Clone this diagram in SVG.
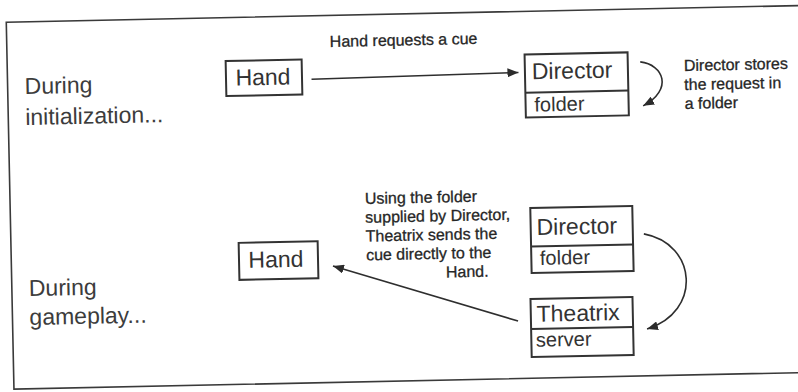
<svg xmlns="http://www.w3.org/2000/svg" width="798" height="392" viewBox="0 0 798 392">
  <defs>
    <marker id="head" markerUnits="userSpaceOnUse" markerWidth="12" markerHeight="9" refX="11" refY="4.5" orient="auto">
      <path d="M0,0 L11,4.5 L0,9 z" fill="#2b2b2b"/>
    </marker>
  </defs>
  <style>
    .frame { fill: none; stroke: #3a3a3a; stroke-width: 1.6; }
    .box { fill: #ffffff; stroke: #333333; stroke-width: 2; }
    .div { stroke: #333333; stroke-width: 2; }
    .name { font-family: "Liberation Sans", Arial, sans-serif; font-size: 23px; fill: #333333; }
    .field { font-family: "Liberation Sans", Arial, sans-serif; font-size: 20px; fill: #333333; }
    .phase { font-family: "Liberation Sans", Arial, sans-serif; font-size: 23px; fill: #3c3c3c; }
    .note { font-family: "Liberation Sans", Arial, sans-serif; font-size: 16px; fill: #262626; stroke: #262626; stroke-width: 0.3; }
    .link { fill: none; stroke: #2e2e2e; stroke-width: 1.6; marker-end: url(#head); }
  </style>
  <rect width="798" height="392" fill="#ffffff"/>

  <!-- whole sheet sits slightly tilted -->
  <g transform="rotate(-1.2 399 196)">
    <rect class="frame" x="10" y="14" width="840" height="367"/>

    <!-- phase captions -->
    <g id="phase-init">
      <text class="phase" x="27" y="86.2">During</text>
      <text class="phase" x="27" y="117.2">initialization...</text>
    </g>
    <g id="phase-play">
      <text class="phase" x="27" y="288.3">During</text>
      <text class="phase" x="27" y="317.3">gameplay...</text>
    </g>

    <!-- initialization: Hand asks Director -->
    <g id="hand-init">
      <rect class="box" x="228.5" y="57.5" width="76" height="35"/>
      <text class="name" x="265.5" y="82.2" text-anchor="middle">Hand</text>
    </g>
    <g id="director-init">
      <rect class="box" x="527.5" y="57.2" width="103" height="63"/>
      <line class="div" x1="527.5" y1="95.4" x2="630.5" y2="95.4"/>
      <text class="name" x="534.4" y="82.1">Director</text>
      <text class="field" x="536.3" y="114.4">folder</text>
    </g>

    <!-- gameplay: Theatrix answers Hand -->
    <g id="hand-play">
      <rect class="box" x="237.7" y="239.5" width="79" height="37"/>
      <text class="name" x="274.6" y="264.7" text-anchor="middle">Hand</text>
    </g>
    <g id="director-play">
      <rect class="box" x="530" y="210.8" width="102" height="65"/>
      <line class="div" x1="530" y1="249.3" x2="632" y2="249.3"/>
      <text class="name" x="535.9" y="237.9">Director</text>
      <text class="field" x="538.6" y="267.9">folder</text>
    </g>
    <g id="theatrix">
      <rect class="box" x="528.3" y="301.8" width="102" height="58"/>
      <line class="div" x1="528.3" y1="331.8" x2="630.3" y2="331.8"/>
      <text class="name" x="534.1" y="324.6">Theatrix</text>
      <text class="field" x="532.9" y="349.6">server</text>
    </g>

    <!-- connectors -->
    <g id="connectors">
      <path class="link" d="M314,77.5 L521,75"/>
      <path class="link" d="M643,67 C666,70 676,95 645,111"/>
      <path class="link" d="M643,239 C696,250 700,318 644.2,334.2"/>
      <path class="link" d="M515.4,323.5 L331.5,264.6"/>
    </g>

    <!-- connector notes -->
    <g id="notes">
      <text class="note" x="333" y="45.6">Hand requests a cue</text>
      <text class="note" x="686.5" y="77">Director stores</text>
      <text class="note" x="686.5" y="96">the request in</text>
      <text class="note" x="686.5" y="115">a folder</text>
      <text class="note" x="364.8" y="203.3">Using the folder</text>
      <text class="note" x="364.8" y="222.1">supplied by Director,</text>
      <text class="note" x="364.8" y="240.9">Theatrix sends the</text>
      <text class="note" x="364.8" y="259.7">cue directly to the</text>
      <text class="note" x="444.3" y="278.5">Hand.</text>
    </g>
  </g>
</svg>
